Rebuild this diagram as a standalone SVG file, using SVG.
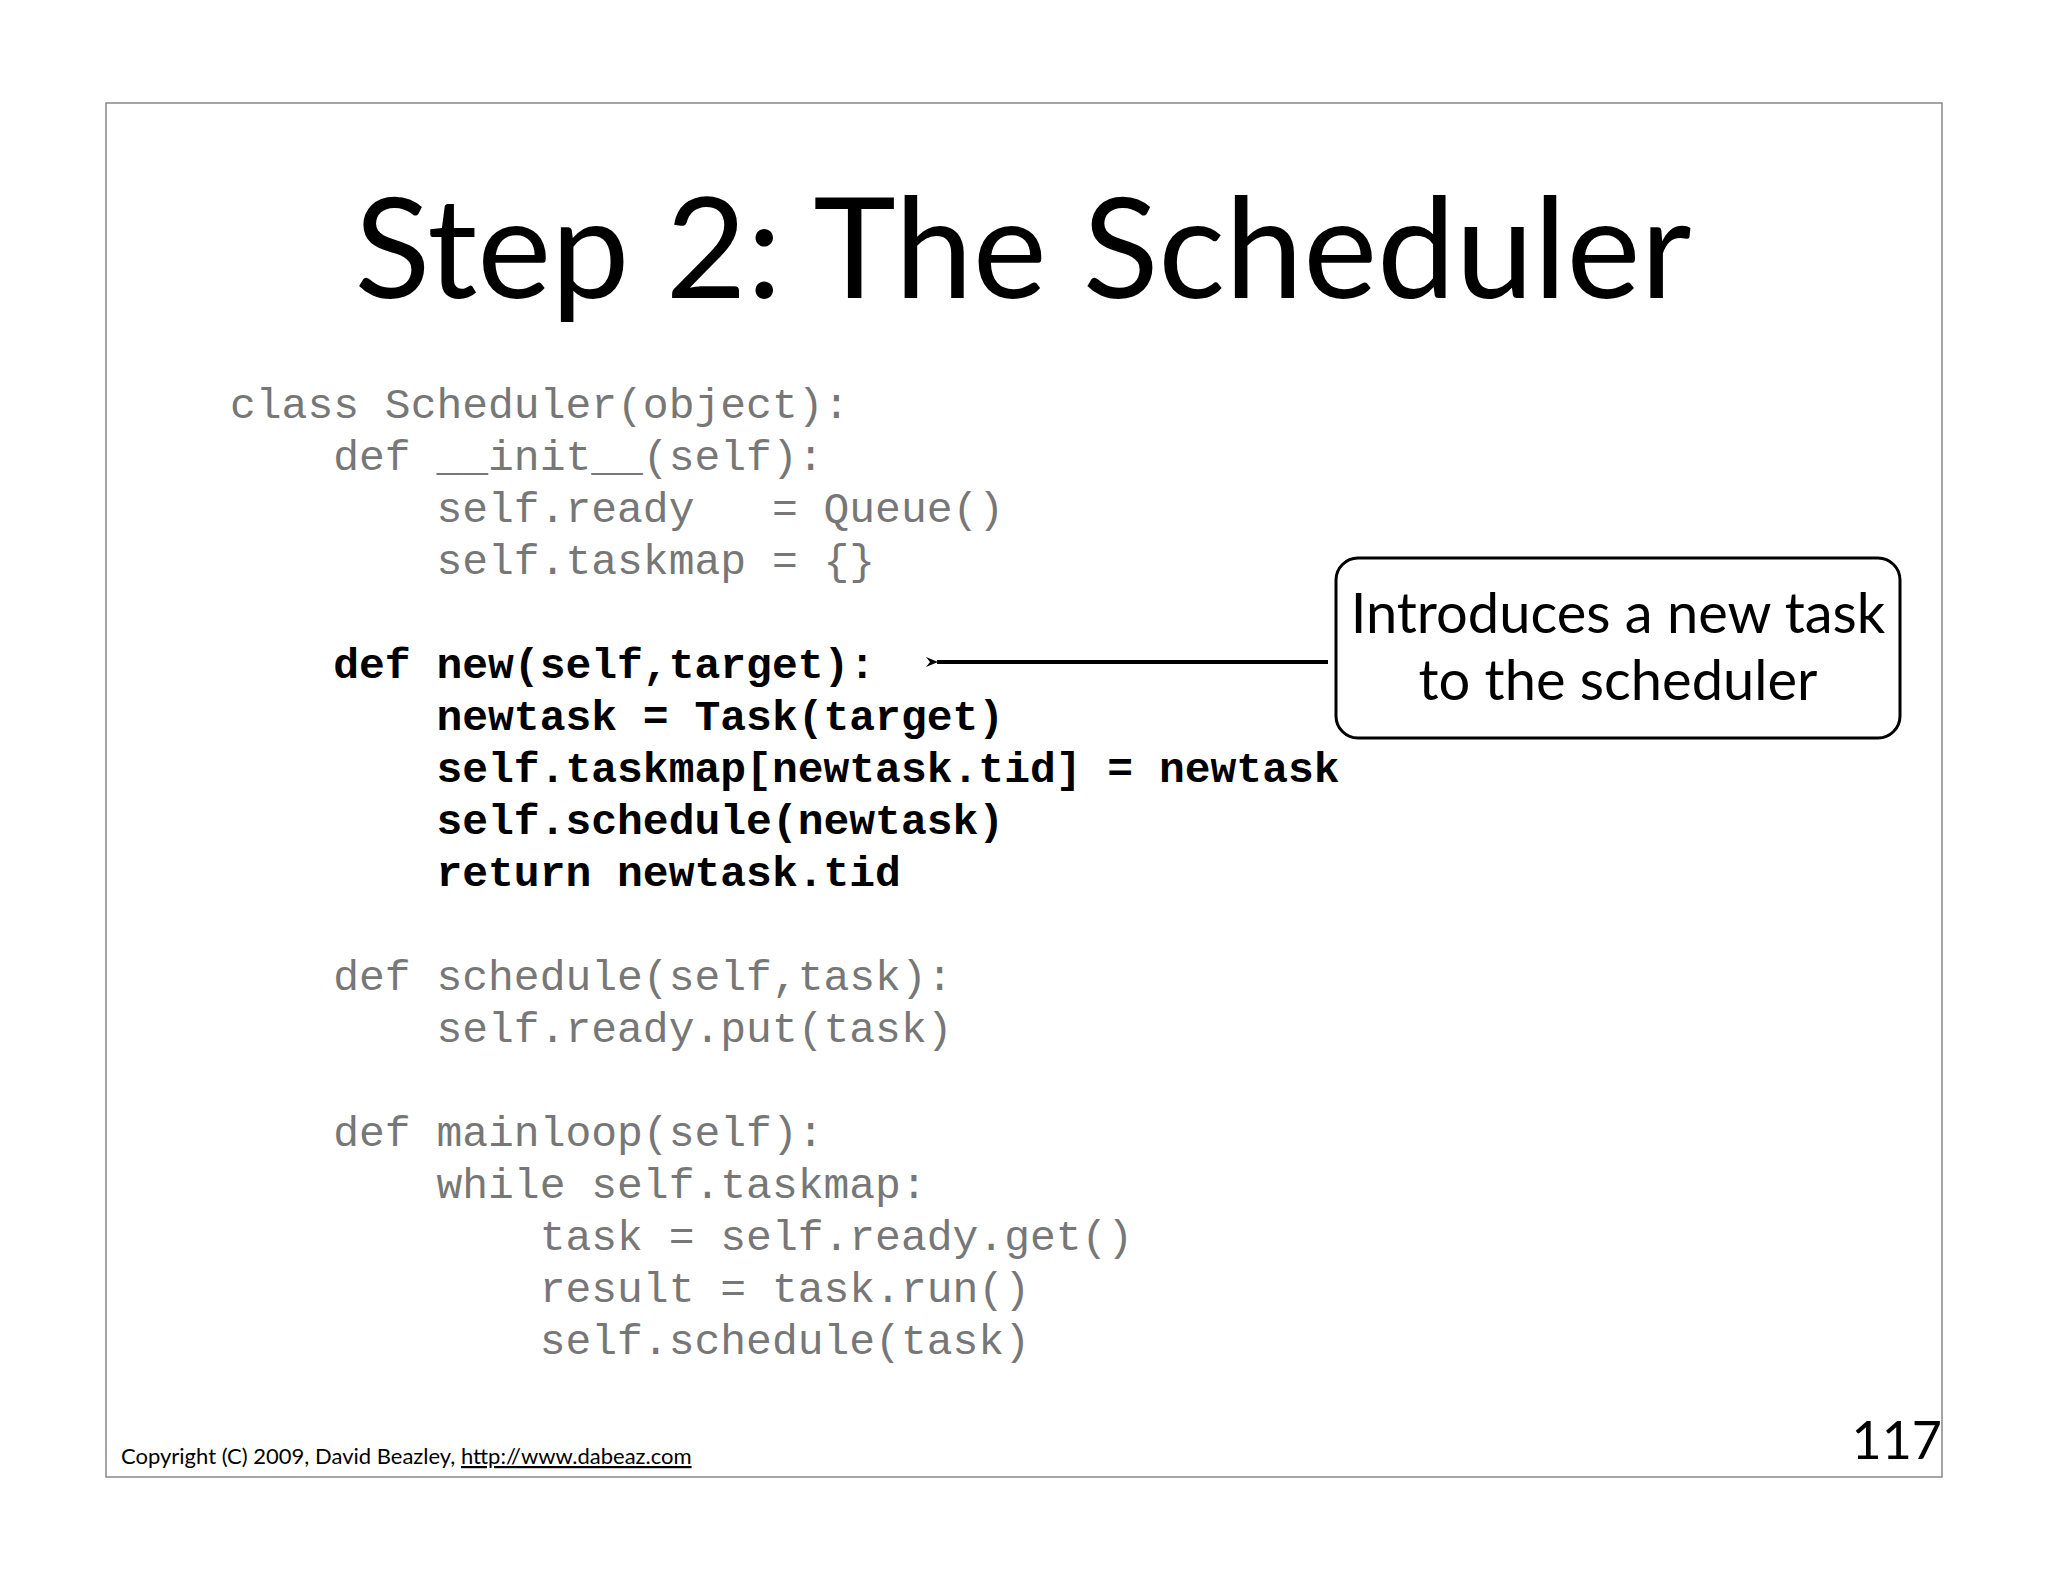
<svg xmlns="http://www.w3.org/2000/svg" width="2048" height="1582" viewBox="0 0 2048 1582">
<style>
.c{font-family:"Liberation Mono",monospace;font-size:43px;fill:#777;white-space:pre}
.b{font-weight:bold;fill:#000}
.s{font-family:Lato,"Open Sans",sans-serif;fill:#000}
</style>
<defs><marker id="ah" markerWidth="12" markerHeight="10" refX="1" refY="5" orient="auto" markerUnits="userSpaceOnUse" viewBox="0 0 12 10"><path d="M0,5 L12,0 L8,5 L12,10 Z" fill="#000"/></marker></defs>
<rect width="2048" height="1582" fill="#fff"/>
<rect x="106" y="103" width="1836" height="1374" fill="none" stroke="#888" stroke-width="1.5"/>
<text class="s" x="1023" y="298" font-size="140" text-anchor="middle">Step 2: The Scheduler</text>
<g id="code">
<text class="c" x="230" y="418">class Scheduler(object):</text>
<text class="c" x="230" y="470">    def __init__(self):</text>
<text class="c" x="230" y="522">        self.ready   = Queue()</text>
<text class="c" x="230" y="574">        self.taskmap = {}</text>
<text class="c b" x="230" y="678">    def new(self,target):</text>
<text class="c b" x="230" y="730">        newtask = Task(target)</text>
<text class="c b" x="230" y="782">        self.taskmap[newtask.tid] = newtask</text>
<text class="c b" x="230" y="834">        self.schedule(newtask)</text>
<text class="c b" x="230" y="886">        return newtask.tid</text>
<text class="c" x="230" y="990">    def schedule(self,task):</text>
<text class="c" x="230" y="1042">        self.ready.put(task)</text>
<text class="c" x="230" y="1146">    def mainloop(self):</text>
<text class="c" x="230" y="1198">        while self.taskmap:</text>
<text class="c" x="230" y="1250">            task = self.ready.get()</text>
<text class="c" x="230" y="1302">            result = task.run()</text>
<text class="c" x="230" y="1354">            self.schedule(task)</text>
</g>
<g id="callout">
<rect x="1336" y="558" width="564" height="180" rx="22" fill="#fff" stroke="#000" stroke-width="3"/>
<text class="s" x="1618" y="633" font-size="56" text-anchor="middle">Introduces a new task</text>
<text class="s" x="1618" y="700" font-size="56" text-anchor="middle">to the scheduler</text>
</g>
<g id="connectors">
<line x1="1328" y1="662" x2="937" y2="662" stroke="#000" stroke-width="4" marker-end="url(#ah)"/>
</g>
<text class="s" x="121" y="1464" font-size="22">Copyright (C) 2009,  David Beazley, <tspan text-decoration="underline">http://www.dabeaz.com</tspan></text>
<text class="s" x="1942" y="1459" font-size="52" text-anchor="end">117</text>
</svg>
